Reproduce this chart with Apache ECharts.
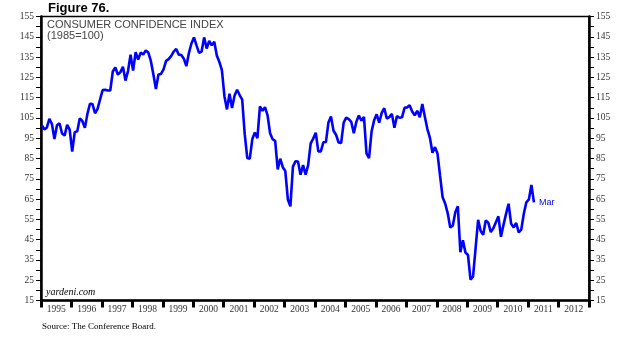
<!DOCTYPE html>
<html>
<head>
<meta charset="utf-8">
<script src="https://cdn.jsdelivr.net/npm/echarts@6/dist/echarts.min.js"></script>
<style>html,body{margin:0;padding:0;background:#fff}#c{width:640px;height:355px}</style>
</head>
<body>
<div id="c"></div>
<script>
var startYear = 1995;
var yearLabels = ['1995','1996','1997','1998','1999','2000','2001','2002','2003','2004','2005','2006','2007','2008','2009','2010','2011','2012'];
var y1995 = [101.4, 99.4, 100.2, 104.6, 102.0, 94.6, 101.4, 102.4, 97.3, 96.3, 101.6, 99.2];
var y1996 = [88.4, 98.0, 98.4, 104.8, 103.5, 100.1, 107.0, 112.0, 111.8, 107.3, 109.5, 114.2];
var y1997 = [118.7, 118.9, 118.5, 118.5, 127.9, 129.9, 126.3, 127.6, 130.2, 123.4, 128.1, 136.2];
var y1998 = [128.3, 137.4, 133.8, 137.2, 136.3, 138.2, 137.2, 133.1, 126.4, 119.3, 126.4, 126.7];
var y1999 = [128.9, 133.1, 134.0, 135.5, 137.7, 139.0, 136.2, 136.0, 134.2, 130.5, 137.0, 141.7];
var y2000 = [144.7, 140.8, 137.1, 137.7, 144.7, 139.2, 143.0, 140.8, 142.5, 135.8, 132.6, 128.6];
var y2001 = [115.7, 109.2, 116.9, 109.9, 116.1, 118.9, 116.3, 114.0, 97.0, 85.3, 84.9, 94.6];
var y2002 = [97.8, 95.0, 110.7, 108.5, 110.3, 106.3, 97.4, 94.5, 93.7, 79.6, 84.9, 80.7];
var y2003 = [78.8, 64.8, 61.4, 81.0, 83.6, 83.5, 77.0, 81.7, 77.0, 81.7, 92.5, 94.8];
var y2004 = [97.7, 88.5, 88.5, 93.0, 93.1, 102.8, 105.7, 98.7, 96.7, 92.9, 92.6, 102.7];
var y2005 = [105.1, 104.4, 103.0, 97.5, 103.1, 106.2, 103.6, 105.5, 87.5, 85.2, 98.3, 103.8];
var y2006 = [106.8, 102.7, 107.5, 109.8, 104.7, 105.4, 107.0, 100.2, 105.9, 105.1, 105.3, 110.0];
var y2007 = [110.2, 111.2, 108.2, 106.3, 108.5, 105.3, 111.9, 105.6, 99.5, 95.2, 87.8, 90.6];
var y2008 = [87.3, 76.4, 65.9, 62.8, 58.1, 51.0, 51.9, 58.5, 61.4, 38.8, 44.7, 38.6];
var y2009 = [37.4, 25.3, 26.9, 40.8, 54.8, 49.3, 47.4, 54.5, 53.4, 48.7, 50.6, 53.6];
var y2010 = [56.5, 46.4, 52.3, 57.7, 62.7, 52.9, 51.0, 53.2, 48.6, 49.9, 57.8, 63.4];
var y2011 = [64.8, 72.0, 63.4];

var cci = [].concat(y1995,y1996,y1997,y1998,y1999,y2000,y2001,y2002,y2003,y2004,y2005,y2006,y2007,y2008,y2009,y2010,y2011);
var lineData = cci.map(function(v, i){ return [startYear + (i + 0.3) / 12, v]; });
var lastPoint = lineData[lineData.length - 1];

var chart = echarts.init(document.getElementById('c'), null, {renderer: 'canvas'});
var axisLab = {color: '#333', fontFamily: 'Liberation Serif, Times New Roman, serif', fontSize: 9.5};
var yAxisCommon = {
  type: 'value', min: 15, max: 155, interval: 5,
  splitLine: {show: false},
  axisLine: {show: true, lineStyle: {color: '#000', width: 2.5}},
  axisTick: {show: true, length: 5, lineStyle: {color: '#000', width: 1}},
  axisLabel: Object.assign({margin: 7, formatter: function(v){ return ((v - 15) % 10 === 0) ? String(v) : ''; }}, axisLab)
};
chart.setOption({
  animation: false,
  backgroundColor: '#fff',
  grid: {left: 41, right: 51, top: 16.5, bottom: 54.5, show: true, borderColor: '#000', borderWidth: 1.5, backgroundColor: 'transparent'},
  graphic: [
    {type: 'text', left: 48, top: 2, style: {text: 'Figure 76.', font: 'bold 13px Liberation Sans, Arial, sans-serif', fill: '#000'}},
    {type: 'text', left: 47, top: 19, style: {text: 'CONSUMER CONFIDENCE INDEX', font: '11px Liberation Sans, Arial, sans-serif', fill: '#444'}},
    {type: 'text', left: 47, top: 30, style: {text: '(1985=100)', font: '11px Liberation Sans, Arial, sans-serif', fill: '#444'}},
    {type: 'text', left: 46, top: 287, style: {text: 'yardeni.com', font: 'italic 10px Liberation Serif, Times New Roman, serif', fill: '#000'}},
    {type: 'text', left: 42, top: 322, style: {text: 'Source: The Conference Board.', font: '9px Liberation Serif, Times New Roman, serif', fill: '#000'}}
  ],
  xAxis: [
    {type: 'category', data: yearLabels, boundaryGap: true, position: 'bottom',
     axisLine: {show: true, lineStyle: {color: '#000', width: 2.5}},
     axisTick: {show: true, length: 7, interval: 0, lineStyle: {color: '#000', width: 3}},
     axisLabel: Object.assign({margin: 4, interval: 0}, axisLab),
     splitLine: {show: false}},
    {type: 'value', min: startYear, max: startYear + yearLabels.length, show: false}
  ],
  yAxis: [
    Object.assign({position: 'left'}, yAxisCommon),
    Object.assign({position: 'right'}, yAxisCommon)
  ],
  series: [{
    type: 'line', xAxisIndex: 1, yAxisIndex: 0, data: lineData, showSymbol: false, symbol: 'none',
    lineStyle: {color: '#0000ff', width: 2.6}, z: 3,
    markPoint: {
      symbol: 'circle', symbolSize: 0,
      data: [{coord: lastPoint, value: 'Mar'}],
      label: {show: true, position: 'right', distance: 5, formatter: 'Mar', color: '#0000ff', fontSize: 9, fontFamily: 'Liberation Sans, Arial, sans-serif'}
    }
  }]
});
</script>
</body>
</html>
